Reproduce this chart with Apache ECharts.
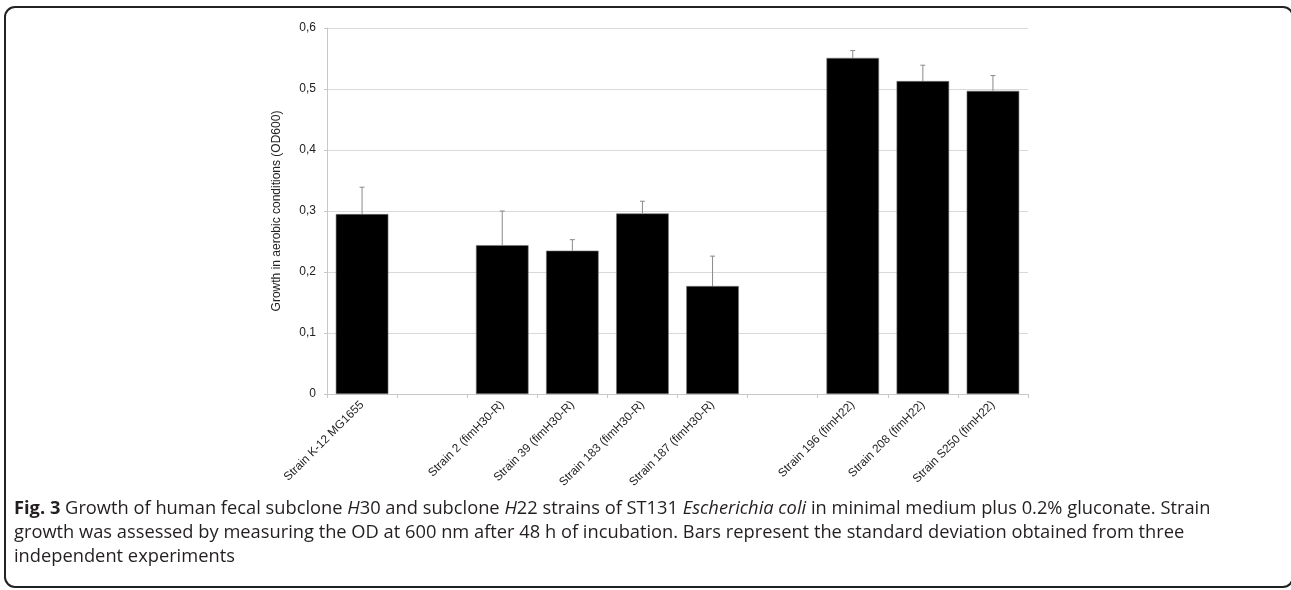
<!DOCTYPE html>
<html>
<head>
<meta charset="utf-8">
<script src="https://cdn.jsdelivr.net/npm/echarts@6/dist/echarts.min.js"></script>
<style>
  html, body { margin: 0; padding: 0; background: #fff; }
  #frame {
    position: absolute; left: 4px; top: 6px; width: 1290px; height: 582px;
    border: 2px solid #222; border-radius: 11px; box-sizing: border-box;
  }
  #chart { position: absolute; left: 0; top: 0; width: 1291px; height: 500px; }
  #caption {
    position: absolute; left: 14px; top: 495px;
    font-family: "Open Sans", "Noto Sans", sans-serif; font-size: 18.3px; line-height: 24px;
    color: #231f20; white-space: nowrap;
  }
</style>
</head>
<body>
<div id="frame"></div>
<div id="chart"></div>
<div id="caption">
  <b>Fig. 3</b> Growth of human fecal subclone <i>H</i>30 and subclone <i>H</i>22 strains of ST131 <i>Escherichia coli</i> in minimal medium plus 0.2% gluconate. Strain<br>
  growth was assessed by measuring the OD at 600 nm after 48 h of incubation. Bars represent the standard deviation obtained from three<br>
  independent experiments
</div>
<script>
// categories (empty strings are the gaps between groups)
let categories = ['Strain K-12 MG1655', '', 'Strain 2 (fimH30-R)', 'Strain 39 (fimH30-R)',
    'Strain 183 (fimH30-R)', 'Strain 187 (fimH30-R)', '', 'Strain 196 (fimH22)',
    'Strain 208 (fimH22)', 'Strain S250 (fimH22)'];
// mean OD600
let means = [0.295, null, 0.244, 0.235, 0.296, 0.177, null, 0.551, 0.513, 0.497];
// standard deviation (upper error bar only)
let sds = [0.044, null, 0.056, 0.018, 0.020, 0.049, null, 0.012, 0.026, 0.025];
let yTicks = [0, 0.1, 0.2, 0.3, 0.4, 0.5, 0.6];

let barData = means.map(function (v) { return v === null ? '-' : v; });
let errData = [];
means.forEach(function (v, i) {
    if (v !== null) errData.push([i, v, v + sds[i]]);
});

let myChart = echarts.init(document.getElementById('chart'));

let option = {
    animation: false,
    backgroundColor: 'transparent',
    grid: { left: 327, top: 28, width: 701, height: 366 },
    xAxis: {
        type: 'category',
        data: categories,
        axisLine: { lineStyle: { color: '#c8c8c8', width: 1 } },
        axisTick: { show: true, alignWithLabel: false, length: 4, lineStyle: { color: '#c8c8c8' } },
        axisLabel: {
            interval: 0, rotate: 45, margin: 9,
            fontFamily: 'Liberation Sans, Arial', fontSize: 11.8, color: '#222'
        }
    },
    yAxis: {
        type: 'value',
        min: 0, max: 0.6, interval: 0.1,
        name: 'Growth in aerobic conditions (OD600)',
        nameLocation: 'middle', nameGap: 44,
        nameTextStyle: { fontFamily: 'Liberation Sans, Arial', fontSize: 12, color: '#222' },
        axisLine: { show: true, lineStyle: { color: '#c8c8c8', width: 1 } },
        axisTick: { show: true, length: 3, lineStyle: { color: '#c8c8c8' } },
        splitLine: { lineStyle: { color: '#d9d9d9', width: 1 } },
        axisLabel: {
            margin: 11,
            fontFamily: 'Liberation Sans, Arial', fontSize: 12, color: '#222',
            formatter: function (v) {
                let t = yTicks.find(function (x) { return Math.abs(x - v) < 1e-9; });
                if (t === 0) return '0';
                return t.toFixed(1).replace('.', ',');
            }
        }
    },
    series: [{
        type: 'bar',
        data: barData,
        barWidth: '75%',
        itemStyle: { color: '#000', borderColor: '#777', borderWidth: 0.6 },
        z: 2
    }, {
        type: 'custom',
        data: errData,
        z: 3,
        renderItem: function (params, api) {
            let top = api.coord([api.value(0), api.value(2)]);
            let base = api.coord([api.value(0), api.value(1)]);
            let half = 2.5;
            return {
                type: 'group',
                children: [{
                    type: 'line',
                    shape: { x1: top[0], y1: top[1], x2: base[0], y2: base[1] },
                    style: { stroke: '#8a8a8a', lineWidth: 1 }
                }, {
                    type: 'line',
                    shape: { x1: top[0] - half, y1: top[1], x2: top[0] + half, y2: top[1] },
                    style: { stroke: '#8a8a8a', lineWidth: 1 }
                }]
            };
        }
    }]
};
myChart.setOption(option);
</script>
</body>
</html>
